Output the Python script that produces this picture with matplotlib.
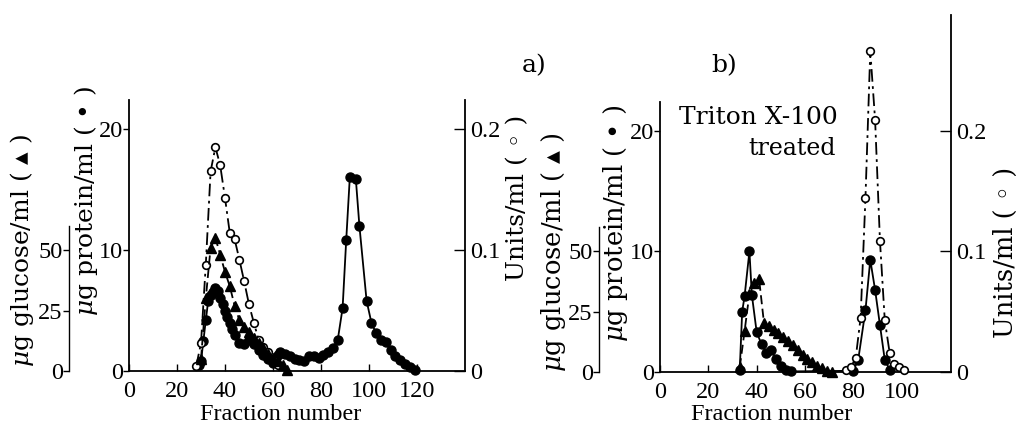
import matplotlib
matplotlib.use('Agg')
import matplotlib.pyplot as plt

plt.rcParams['font.family'] = ['Liberation Serif', 'DejaVu Sans']
plt.rcParams['mathtext.fontset'] = 'dejavuserif'

# ---------------- data: panel a ----------------
prot_a_frac = [29, 30, 31, 32, 33, 34, 35, 36, 37, 38, 39, 40, 41, 42, 43, 44, 46, 48, 50, 52,
               54, 56, 58, 60, 62, 63, 65, 67, 69, 71, 73, 75, 77, 79, 81, 83, 85, 87, 89, 90.5,
               92, 94.5, 96, 99, 101, 103, 105, 107, 109, 111, 113, 115, 117, 119]
prot_a = [0.5, 0.8, 2.5, 4.2, 5.8, 6.3, 6.5, 6.9, 6.6, 6.0, 5.5, 5.0, 4.5, 4.0, 3.5, 3.0, 2.3, 2.2, 2.6, 2.2,
          1.7, 1.3, 1.0, 0.7, 1.3, 1.6, 1.4, 1.2, 1.0, 0.9, 0.8, 1.2, 1.2, 1.1, 1.3, 1.6, 1.9, 2.6, 5.2, 10.8,
          16.0, 15.9, 12.0, 5.8, 4.0, 3.1, 2.6, 2.4, 1.7, 1.2, 0.9, 0.6, 0.3, 0.1]
units_a_frac = [28, 30, 32, 34, 36, 38, 40, 42, 44, 46, 48, 50, 52, 54, 56, 58, 60, 62]
units_a = [0.004, 0.023, 0.088, 0.165, 0.185, 0.170, 0.143, 0.114, 0.109, 0.092, 0.074, 0.055,
           0.040, 0.026, 0.020, 0.016, 0.010, 0.005]
gluc_a_frac = [30, 32, 34, 36, 38, 40, 42, 44, 46, 48, 50, 52, 54, 56, 58, 60, 62, 64, 66]
gluc_a = [5, 30, 51, 55, 48, 41, 35, 27, 21, 18, 16, 13.5, 11.5, 9.5, 7, 5.5, 4, 2.5, 0.5]

# ---------------- data: panel b ----------------
prot_b_frac = [33, 34, 35, 37, 38, 40, 42, 44, 46, 48, 50, 52, 54, 80, 82, 85, 87, 89, 91, 93, 95]
prot_b = [0.2, 5.0, 6.3, 10.0, 6.4, 3.3, 2.3, 1.6, 1.8, 1.1, 0.5, 0.2, 0.05, 0.1, 1.0, 5.1, 9.3, 6.8, 3.9, 1.0, 0.2]
units_b_frac = [77, 79, 81, 83, 85, 87, 89, 91, 93, 95, 97, 99, 101]
units_b = [0.0015, 0.004, 0.012, 0.045, 0.144, 0.266, 0.209, 0.109, 0.043, 0.016, 0.007, 0.004, 0.0015]
gluc_b_frac = [33, 35, 37, 39, 41, 43, 45, 47, 49, 51, 53, 55, 57, 59, 61, 63, 65, 67, 69, 71]
gluc_b = [2, 17, 32.5, 37, 38.5, 20.5, 19, 17.5, 16, 14.5, 13, 11, 9, 7, 5.5, 4, 2.5, 1.5, 0.5, 0.2]

xticks_a = [0, 20, 40, 60, 80, 100, 120]
xticks_b = [0, 20, 40, 60, 80, 100]
prot_ticks = [0, 10, 20]
units_ticks = [0, 0.1, 0.2]
units_labels = ['0', '0.1', '0.2']
gluc_ticks = [0, 25, 50]

W, H = 1018, 434
fig = plt.figure(figsize=(W / 100, H / 100), dpi=100)


def px_axes(l, r, top, bottom):
    return [l / W, (H - bottom) / H, (r - l) / W, (bottom - top) / H]


TICK_FS = 17.5
LW = 1.3
SERIF_W = ['DejaVu Serif', 'DejaVu Sans']


def build(rect, xmax, prot_top, prot_bound, gluc_off, xticks,
          pf, pv, uf, uv, gf, gv):
    ax = fig.add_axes(rect)
    ax.set_xlim(0, xmax)
    ax.set_ylim(0, prot_top)
    for s in ['top', 'right']:
        ax.spines[s].set_visible(False)
    ax.spines['left'].set_bounds(0, prot_bound)
    for s in ['left', 'bottom']:
        ax.spines[s].set_linewidth(1.3)
    ax.set_xticks(xticks)
    ax.set_yticks(prot_ticks)
    ax.tick_params(axis='x', direction='in', length=5, width=1, labelsize=TICK_FS, pad=7)
    ax.tick_params(axis='y', direction='out', length=4, width=1, labelsize=TICK_FS, pad=0.5)

    axu = ax.twinx()
    axu.set_ylim(0, prot_top / 100.0)
    for s in ['top', 'left', 'bottom']:
        axu.spines[s].set_visible(False)
    axu.spines['right'].set_linewidth(1.3)
    axu.set_yticks(units_ticks)
    axu.set_yticklabels(units_labels)
    axu.tick_params(axis='y', direction='in', length=8, width=1, labelsize=TICK_FS, pad=4)

    axg = ax.twinx()
    axg.set_ylim(0, prot_top * 5)
    for s in ['top', 'right', 'bottom']:
        axg.spines[s].set_visible(False)
    axg.spines['left'].set_visible(True)
    axg.spines['left'].set_position(('axes', gluc_off))
    axg.spines['left'].set_bounds(0, 60)
    axg.spines['left'].set_linewidth(1.0)
    axg.yaxis.set_ticks_position('left')
    axg.set_yticks(gluc_ticks)
    axg.tick_params(axis='y', direction='out', length=4, width=1, labelsize=TICK_FS, pad=0.5)

    axg.plot(gf, gv, linestyle=(0, (5, 2.5)), color='black', lw=LW,
             marker='^', ms=7, mfc='black', mec='black', clip_on=False, zorder=3)
    axu.plot(uf, uv, linestyle=(0, (7, 2.5, 1.5, 2.5)), color='black', lw=LW,
             marker='o', ms=5.5, mfc='white', mec='black', mew=1.2, clip_on=False, zorder=4)
    ax.plot(pf, pv, linestyle='-', color='black', lw=LW,
            marker='o', ms=6.5, mfc='black', mec='black', clip_on=False, zorder=5)
    return ax


# panel a
build(px_axes(129, 465, 100, 371), 140, 22.4, 22.4, (69 - 129) / (465 - 129), xticks_a,
      prot_a_frac, prot_a, units_a_frac, units_a, gluc_a_frac, gluc_a)
# panel b
build(px_axes(660, 951, 15, 372), 120.4, 29.6, 22.4, (599 - 660) / (951 - 660), xticks_b,
      prot_b_frac, prot_b, units_b_frac, units_b, gluc_b_frac, gluc_b)


def ftext(x, y, s, **kw):
    fig.text(x / W, 1 - y / H, s, **kw)


gl = r'$\mu$g glucose/ml ( ▴ )'
pl = r'$\mu$g protein/ml ( • )'
ul = 'Units/ml ( ◦ )'
rot_a = dict(rotation=90, ha='center', va='center', fontsize=18, family=SERIF_W)
rot_b = dict(rotation=90, ha='center', va='center', fontsize=18.5, family=SERIF_W)
ftext(22, 251, gl, **rot_a)
ftext(86, 201, pl, **rot_a)
ftext(518, 198, ul, **rot_a)
ftext(553, 252, gl, **rot_b)
ftext(615, 223, pl, **rot_b)
ftext(1005, 252, ul, **rot_b)

ftext(281, 414, 'Fraction number', ha='center', va='center', fontsize=17.5)
ftext(772, 414, 'Fraction number', ha='center', va='center', fontsize=17.5)

ftext(534, 66, 'a)', ha='center', va='center', fontsize=18, family=SERIF_W)
ftext(724, 66, 'b)', ha='center', va='center', fontsize=18, family=SERIF_W)
ftext(838, 118, 'Triton X-100', ha='right', va='center', fontsize=18, family=SERIF_W)
ftext(836, 148, 'treated', ha='right', va='center', fontsize=17, family=SERIF_W)

fig.savefig('out.png', dpi=100)
